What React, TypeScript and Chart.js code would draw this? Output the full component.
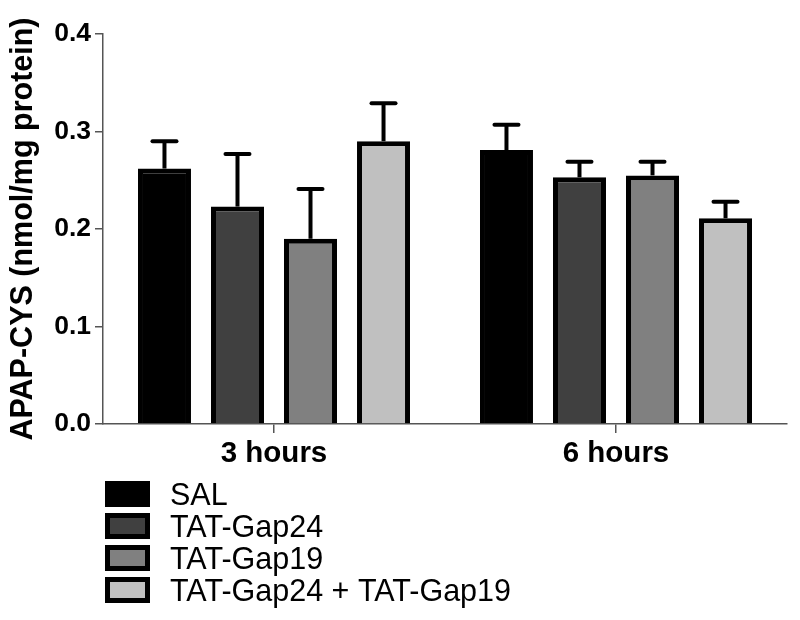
import React, { useEffect, useRef } from "react";
import { Chart, registerables } from "chart.js";

Chart.register(...registerables);

const categories = ["3 hours", "6 hours"];
const seriesNames = ["SAL", "TAT-Gap24", "TAT-Gap19", "TAT-Gap24 + TAT-Gap19"];
const salValues = [0.262, 0.281];
const salErrors = [0.028, 0.026];
const gap24Values = [0.223, 0.253];
const gap24Errors = [0.054, 0.016];
const gap19Values = [0.19, 0.255];
const gap19Errors = [0.051, 0.014];
const comboValues = [0.29, 0.211];
const comboErrors = [0.039, 0.017];
const yTicks = [0, 0.1, 0.2, 0.3, 0.4];
const yTitle = "APAP-CYS (nmol/mg protein)";

const colors = ["#000000", "#404040", "#808080", "#c0c0c0"];
const FONT = "'Liberation Sans', Arial, Helvetica, sans-serif";

const errorBarPlugin = {
  id: "errorBars",
  afterDatasetsDraw(chart: any) {
    const ctx = chart.ctx;
    const yScale = chart.scales.y;
    chart.data.datasets.forEach((ds: any, di: number) => {
      const meta = chart.getDatasetMeta(di);
      const errs = ds.errors || [];
      meta.data.forEach((bar: any, i: number) => {
        const v = ds.data[i];
        const e = errs[i];
        if (e == null) return;
        const x = bar.x;
        const y0 = yScale.getPixelForValue(v);
        const y1 = yScale.getPixelForValue(v + e);
        ctx.save();
        ctx.strokeStyle = "#000";
        ctx.lineWidth = 4;
        ctx.lineCap = "butt";
        ctx.beginPath();
        ctx.moveTo(x, y0);
        ctx.lineTo(x, y1);
        ctx.stroke();
        ctx.lineCap = "round";
        ctx.beginPath();
        ctx.moveTo(x - 12, y1);
        ctx.lineTo(x + 12, y1);
        ctx.stroke();
        ctx.restore();
      });
    });
  },
};

const legendPlugin = {
  id: "stackLegend",
  afterDraw(chart: any) {
    const ctx = chart.ctx;
    const left = 105;
    const top = 481;
    const pitch = 32;
    const bw = 45;
    const bh = 26;
    const border = 5;
    ctx.save();
    chart.data.datasets.forEach((ds: any, i: number) => {
      const y = top + i * pitch;
      ctx.fillStyle = "#000";
      ctx.fillRect(left, y, bw, bh);
      ctx.fillStyle = ds.backgroundColor;
      ctx.fillRect(left + border, y + border, bw - 2 * border, bh - 2 * border);
      ctx.fillStyle = "#000";
      ctx.font = `30.5px ${FONT}`;
      ctx.textBaseline = "alphabetic";
      ctx.textAlign = "left";
      ctx.fillText(ds.label, 170, y + 24);
    });
    ctx.restore();
  },
};

export default function App() {
  const ref = useRef<HTMLCanvasElement>(null);

  useEffect(() => {
    if (!ref.current) return;
    const values = [salValues, gap24Values, gap19Values, comboValues];
    const errors = [salErrors, gap24Errors, gap19Errors, comboErrors];
    const chart = new Chart(ref.current, {
      type: "bar",
      data: {
        labels: categories,
        datasets: seriesNames.map((name, i) => ({
          label: name,
          data: values[i],
          errors: errors[i],
          backgroundColor: colors[i],
          borderColor: "#000000",
          borderWidth: 5,
          categoryPercentage: 0.854,
          barPercentage: 0.726,
        })) as any,
      },
      options: {
        responsive: false,
        animation: false,
        events: [],
        layout: { padding: { top: 34, right: 13, bottom: 146, left: 0 } },
        plugins: {
          legend: { display: false },
          tooltip: { enabled: false },
        },
        scales: {
          x: {
            grid: {
              display: true,
              offset: false,
              drawOnChartArea: false,
              drawTicks: true,
              tickLength: 9,
              color: "#555555",
              lineWidth: 1.5,
            },
            border: { display: true, color: "#555555", width: 1.5 },
            ticks: {
              color: "#000",
              font: { family: FONT, size: 29.5, weight: "bold" },
              padding: 3,
            },
            afterFit(scale: any) {
              scale.height = 50;
            },
          },
          y: {
            min: 0,
            max: 0.4,
            afterBuildTicks(scale: any) {
              scale.ticks = yTicks.map((v) => ({ value: v }));
            },
            grid: {
              display: true,
              drawOnChartArea: false,
              drawTicks: true,
              tickLength: 8,
              color: "#555555",
              lineWidth: 1.5,
            },
            border: { display: true, color: "#555555", width: 1.5 },
            ticks: {
              color: "#000",
              font: { family: FONT, size: 26.5, weight: "bold" },
              padding: 4,
              callback: (v: any) => Number(v).toFixed(1),
            },
            title: {
              display: true,
              text: yTitle,
              color: "#000",
              font: { family: FONT, size: 30.5, weight: "bold" },
              padding: { top: 5, bottom: 0 },
            },
            afterFit(scale: any) {
              scale.width = 103;
            },
          },
        },
      },
      plugins: [errorBarPlugin, legendPlugin],
    });
    return () => chart.destroy();
  }, []);

  return (
    <div style={{ position: "absolute", left: 0, top: 0, width: 800, height: 620, background: "#fff" }}>
      <canvas ref={ref} width={800} height={620} style={{ display: "block" }} />
    </div>
  );
}
